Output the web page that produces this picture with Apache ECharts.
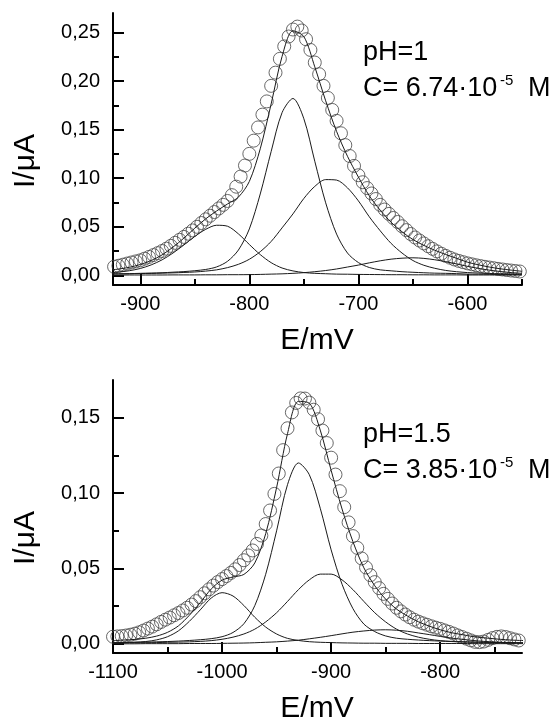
<!DOCTYPE html>
<html><head><meta charset="utf-8">
<script src="https://cdn.jsdelivr.net/npm/echarts@6/dist/echarts.min.js"></script>
<style>html,body{margin:0;padding:0;background:#fff}#c{width:559px;height:726px}</style>
</head><body><div id="c"></div>
<script>
// ---------- top panel (pH=1) ----------
const topLineE = [-930,-920,-910,-900,-890,-880,-870,-860,-850,-840,-830,-820,-810,-800,-790,-780,-770,-760,-750,-740,-730,-720,-710,-700,-690,-680,-670,-660,-650,-640,-630,-620,-610,-600,-590,-580,-570,-560,-550];
const topPeak1 = [0.0023,0.0033,0.0047,0.0070,0.0107,0.0159,0.0229,0.0312,0.0400,0.0473,0.0515,0.0505,0.0426,0.0317,0.0213,0.0130,0.0075,0.0045,0.0028,0.0020,0.0016,0.0012,0.0011,0.0009,0.0008,0.0007,0.0006,0.0006,0.0005,0.0005,0.0004,0.0004,0.0004,0.0003,0.0003,0.0003,0.0003,0.0003,0.0002];
const topPeak2 = [0.0014,0.0015,0.0017,0.0020,0.0023,0.0026,0.0032,0.0038,0.0047,0.0060,0.0086,0.0144,0.0260,0.0477,0.0837,0.1274,0.1674,0.1820,0.1611,0.1174,0.0746,0.0424,0.0229,0.0131,0.0080,0.0056,0.0046,0.0037,0.0031,0.0026,0.0022,0.0020,0.0017,0.0012,0.0011,0.0010,0.0009,0.0008,0.0007];
const topPeak3 = [0.0012,0.0014,0.0015,0.0018,0.0019,0.0022,0.0025,0.0029,0.0034,0.0043,0.0056,0.0079,0.0113,0.0165,0.0243,0.0348,0.0488,0.0632,0.0791,0.0915,0.0985,0.0980,0.0900,0.0766,0.0602,0.0458,0.0328,0.0229,0.0152,0.0103,0.0072,0.0050,0.0037,0.0028,0.0023,0.0019,0.0016,0.0014,0.0012];
const topPeak4 = [0.0002,0.0002,0.0003,0.0003,0.0003,0.0003,0.0004,0.0004,0.0004,0.0005,0.0005,0.0006,0.0006,0.0007,0.0009,0.0012,0.0015,0.0020,0.0027,0.0037,0.0049,0.0065,0.0085,0.0105,0.0128,0.0149,0.0166,0.0176,0.0180,0.0174,0.0160,0.0140,0.0117,0.0092,0.0071,0.0053,0.0039,0.0028,0.0020];
const topFit = [0.0051,0.0064,0.0082,0.0111,0.0152,0.0210,0.0290,0.0383,0.0485,0.0581,0.0662,0.0734,0.0805,0.0966,0.1302,0.1764,0.2252,0.2517,0.2457,0.2146,0.1796,0.1481,0.1225,0.1011,0.0818,0.0670,0.0546,0.0448,0.0368,0.0308,0.0258,0.0214,0.0175,0.0135,0.0108,0.0085,0.0067,0.0053,0.0041];
const topPointE = [-924,-920,-916,-912,-908,-904,-900,-896,-892,-888,-884,-880,-876,-872,-868,-864,-860,-856,-852,-848,-844,-840,-836,-832,-828,-824,-820,-816,-812,-808,-804,-800,-796,-792,-788,-784,-780,-776,-772,-768,-764,-760,-756,-752,-748,-744,-740,-736,-732,-728,-724,-720,-716,-712,-708,-704,-700,-696,-692,-688,-684,-680,-676,-672,-668,-664,-660,-656,-652,-648,-644,-640,-636,-632,-628,-624,-620,-616,-612,-608,-604,-600,-596,-592,-588,-584,-580,-576,-572,-568,-564,-560,-556,-552];
const topPointI = [0.0088,0.0098,0.0109,0.0121,0.0132,0.0143,0.0154,0.0171,0.0189,0.0208,0.0228,0.0250,0.0274,0.0303,0.0334,0.0365,0.0395,0.0428,0.0462,0.0499,0.0538,0.0576,0.0613,0.0651,0.0688,0.0725,0.0765,0.0825,0.0912,0.1016,0.1130,0.1250,0.1386,0.1522,0.1654,0.1790,0.1950,0.2086,0.2228,0.2356,0.2458,0.2530,0.2560,0.2520,0.2430,0.2320,0.2190,0.2070,0.1950,0.1826,0.1702,0.1590,0.1462,0.1340,0.1228,0.1126,0.1030,0.0958,0.0898,0.0842,0.0785,0.0725,0.0677,0.0632,0.0590,0.0549,0.0505,0.0465,0.0425,0.0389,0.0358,0.0328,0.0299,0.0272,0.0246,0.0222,0.0200,0.0181,0.0163,0.0148,0.0135,0.0123,0.0113,0.0103,0.0095,0.0087,0.0080,0.0073,0.0066,0.0060,0.0054,0.0049,0.0044,0.0039];
const topXTicks = [-900,-800,-700,-600];
const topXMinor = [-850,-750,-650,-550];
const topYTicks = [0,0.05,0.10,0.15,0.20,0.25];
const topYMinor = [0.025,0.075,0.125,0.175,0.225];

// ---------- bottom panel (pH=1.5) ----------
const botLineE = [-1100,-1090,-1080,-1070,-1060,-1050,-1040,-1030,-1020,-1010,-1000,-990,-980,-970,-960,-950,-940,-930,-920,-910,-900,-890,-880,-870,-860,-850,-840,-830,-820,-810,-800,-790,-780,-770,-760,-750,-740,-730,-720];
const botPeak1 = [0.0007,0.0009,0.0012,0.0016,0.0027,0.0048,0.0087,0.0150,0.0226,0.0304,0.0340,0.0318,0.0255,0.0177,0.0112,0.0066,0.0037,0.0023,0.0015,0.0011,0.0009,0.0007,0.0006,0.0005,0.0005,0.0004,0.0004,0.0004,0.0003,0.0003,0.0003,0.0003,0.0003,0.0002,0.0002,0.0002,0.0002,0.0002,0.0002];
const botPeak2 = [0.0008,0.0009,0.0010,0.0012,0.0014,0.0016,0.0019,0.0023,0.0028,0.0035,0.0048,0.0076,0.0134,0.0254,0.0462,0.0750,0.1056,0.1200,0.1122,0.0900,0.0624,0.0396,0.0234,0.0132,0.0082,0.0053,0.0038,0.0031,0.0026,0.0022,0.0019,0.0016,0.0014,0.0012,0.0011,0.0010,0.0009,0.0008,0.0008];
const botPeak3 = [0.0006,0.0007,0.0007,0.0008,0.0009,0.0011,0.0012,0.0014,0.0017,0.0022,0.0031,0.0045,0.0066,0.0098,0.0146,0.0207,0.0282,0.0360,0.0425,0.0463,0.0463,0.0425,0.0360,0.0282,0.0207,0.0146,0.0098,0.0066,0.0045,0.0031,0.0022,0.0017,0.0014,0.0012,0.0011,0.0009,0.0008,0.0007,0.0007];
const botPeak4 = [0.0001,0.0001,0.0001,0.0002,0.0002,0.0002,0.0002,0.0003,0.0003,0.0003,0.0004,0.0005,0.0006,0.0008,0.0011,0.0014,0.0019,0.0025,0.0034,0.0044,0.0055,0.0067,0.0078,0.0086,0.0092,0.0094,0.0091,0.0084,0.0073,0.0062,0.0050,0.0039,0.0031,0.0023,0.0017,0.0013,0.0009,0.0007,0.0005];
const botFit = [0.0022,0.0026,0.0030,0.0038,0.0052,0.0077,0.0120,0.0190,0.0274,0.0364,0.0423,0.0444,0.0461,0.0537,0.0731,0.1037,0.1394,0.1608,0.1596,0.1418,0.1151,0.0895,0.0678,0.0505,0.0386,0.0297,0.0231,0.0185,0.0147,0.0118,0.0094,0.0075,0.0062,0.0049,0.0041,0.0034,0.0028,0.0024,0.0022];
const botPointE = [-1100,-1096,-1092,-1088,-1084,-1080,-1076,-1072,-1068,-1064,-1060,-1056,-1052,-1048,-1044,-1040,-1036,-1032,-1028,-1024,-1020,-1016,-1012,-1008,-1004,-1000,-996,-992,-988,-984,-980,-976,-972,-968,-964,-960,-956,-952,-948,-944,-940,-936,-932,-928,-924,-920,-916,-912,-908,-904,-900,-896,-892,-888,-884,-880,-876,-872,-868,-864,-860,-856,-852,-848,-844,-840,-836,-832,-828,-824,-820,-816,-812,-808,-804,-800,-796,-792,-788,-784,-780,-776,-772,-768,-764,-760,-756,-752,-748,-744,-740,-736,-732,-728];
const botPointI = [0.0048,0.0050,0.0052,0.0056,0.0061,0.0068,0.0077,0.0089,0.0102,0.0115,0.0130,0.0146,0.0161,0.0175,0.0190,0.0205,0.0222,0.0240,0.0261,0.0284,0.0310,0.0336,0.0362,0.0387,0.0410,0.0430,0.0450,0.0471,0.0495,0.0523,0.0555,0.0587,0.0620,0.0663,0.0719,0.0795,0.0885,0.0995,0.1130,0.1285,0.1430,0.1535,0.1598,0.1628,0.1627,0.1600,0.1553,0.1490,0.1415,0.1332,0.1235,0.1123,0.1013,0.0907,0.0806,0.0715,0.0637,0.0567,0.0507,0.0456,0.0410,0.0370,0.0332,0.0299,0.0268,0.0240,0.0216,0.0195,0.0177,0.0161,0.0148,0.0137,0.0127,0.0117,0.0108,0.0100,0.0090,0.0080,0.0069,0.0057,0.0046,0.0035,0.0024,0.0014,0.0012,0.0016,0.0027,0.0039,0.0047,0.0050,0.0046,0.0038,0.0030,0.0023];
const botXTicks = [-1100,-1000,-900,-800];
const botXMinor = [-1050,-950,-850,-750];
const botYTicks = [0,0.05,0.10,0.15];
const botYMinor = [0.025,0.075,0.125];

// ---------- build ----------
const FONT = 'Liberation Sans, Arial, Helvetica, sans-serif';
const pairs = (xs, ys) => xs.map((x, i) => [x, ys[i]]);
const yFmt = v => v.toFixed(2).replace('.', ',');
const xFmt = v => String(Math.round(v));

function axesFor(g, xmin, xmax, xt, xm, ymin, ymax, yt, ym) {
  const common = { gridIndex: g, type: 'value', splitLine: { show: false } };
  const xs = [
    Object.assign({}, common, { min: xmin, max: xmax, position: 'bottom',
      axisLine: { show: true, onZero: false, lineStyle: { color: '#000', width: 2 } },
      axisTick: { show: true, inside: true, length: 11, customValues: xt, lineStyle: { color: '#000', width: 2 } },
      axisLabel: { show: true, customValues: xt, formatter: xFmt, fontSize: 20, color: '#000', fontFamily: FONT, margin: 9 } }),
    Object.assign({}, common, { min: xmin, max: xmax, position: 'bottom',
      axisLine: { show: false, onZero: false },
      axisTick: { show: true, inside: true, length: 6, customValues: xm, lineStyle: { color: '#000', width: 2 } },
      axisLabel: { show: false } })
  ];
  const ys = [
    Object.assign({}, common, { min: ymin, max: ymax, position: 'left',
      axisLine: { show: true, onZero: false, lineStyle: { color: '#000', width: 2 } },
      axisTick: { show: true, inside: true, length: 11, customValues: yt, lineStyle: { color: '#000', width: 2 } },
      axisLabel: { show: true, customValues: yt, formatter: yFmt, fontSize: 20, color: '#000', fontFamily: FONT, margin: 13 } }),
    Object.assign({}, common, { min: ymin, max: ymax, position: 'left',
      axisLine: { show: false, onZero: false },
      axisTick: { show: true, inside: true, length: 6, customValues: ym, lineStyle: { color: '#000', width: 2 } },
      axisLabel: { show: false } })
  ];
  return { xs, ys };
}

const A = axesFor(0, -925, -550, topXTicks, topXMinor, -0.01, 0.27, topYTicks, topYMinor);
const B = axesFor(1, -1100, -725, botXTicks, botXMinor, -0.006, 0.175, botYTicks, botYMinor);

function lineS(xi, yi, xs, ys, name) {
  return { type: 'line', name, xAxisIndex: xi, yAxisIndex: yi, data: pairs(xs, ys),
    showSymbol: false, symbol: 'none', smooth: 0.3, clip: true, silent: true,
    lineStyle: { color: '#1a1a1a', width: 1 }, z: 3 };
}
function pointsS(xi, yi, xs, ys) {
  return { type: 'scatter', name: 'data', xAxisIndex: xi, yAxisIndex: yi, data: pairs(xs, ys),
    symbol: 'circle', symbolSize: 13, silent: true, clip: false,
    itemStyle: { color: 'rgba(0,0,0,0)', borderColor: '#444', borderWidth: 1 }, z: 2 };
}

const txt = (x, y, s, size) => ({ type: 'text', x, y,
  style: { text: s, fontSize: size, fontFamily: FONT, fill: '#000', align: 'left', verticalAlign: 'top' } });
const ctxt = (x, y, s, rot) => ({ type: 'text', x, y, rotation: rot || 0,
  style: { text: s, fontSize: 30, fontFamily: FONT, fill: '#000', align: 'center', verticalAlign: 'middle' } });

const option = {
  backgroundColor: '#fff',
  animation: false,
  grid: [
    { left: 113, top: 13, width: 409, height: 272, containLabel: false },
    { left: 113, top: 380, width: 409, height: 273, containLabel: false }
  ],
  xAxis: A.xs.concat(B.xs),
  yAxis: A.ys.concat(B.ys),
  series: [
    pointsS(0, 0, topPointE, topPointI),
    lineS(0, 0, topLineE, topFit, 'fit'),
    lineS(0, 0, topLineE, topPeak1, 'p1'),
    lineS(0, 0, topLineE, topPeak2, 'p2'),
    lineS(0, 0, topLineE, topPeak3, 'p3'),
    lineS(0, 0, topLineE, topPeak4, 'p4'),
    pointsS(2, 2, botPointE, botPointI),
    lineS(2, 2, botLineE, botFit, 'fit'),
    lineS(2, 2, botLineE, botPeak1, 'p1'),
    lineS(2, 2, botLineE, botPeak2, 'p2'),
    lineS(2, 2, botLineE, botPeak3, 'p3'),
    lineS(2, 2, botLineE, botPeak4, 'p4')
  ],
  graphic: [
    ctxt(26, 161, 'I/μA', Math.PI / 2),
    ctxt(26, 538, 'I/μA', Math.PI / 2),
    ctxt(317, 341, 'E/mV'),
    ctxt(317, 709, 'E/mV'),
    txt(363, 39, 'pH=1', 27),
    txt(363, 75, 'C= 6.74·10', 27),
    txt(500, 73, '-5', 15),
    txt(528, 75, 'M', 27),
    txt(363, 421, 'pH=1.5', 27),
    txt(363, 457, 'C= 3.85·10', 27),
    txt(500, 455, '-5', 15),
    txt(528, 457, 'M', 27)
  ]
};
const chart = echarts.init(document.getElementById('c'), null, { renderer: 'canvas' });
chart.setOption(option);
</script>
</body></html>
